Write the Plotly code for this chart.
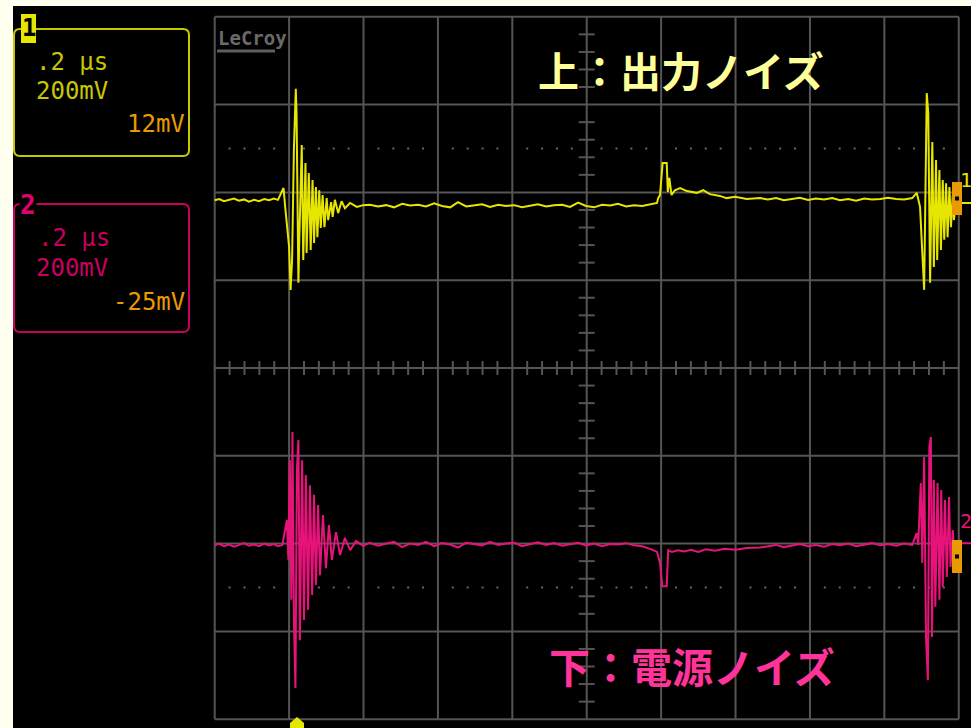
import plotly.graph_objects as go

# ---------------- data (time in ns, voltage in mV) ----------------
ch1_t = [0, 12, 25, 38, 52, 65, 79, 92, 106, 119, 133, 146, 159, 170, 185, 189,
         200, 204, 208, 213, 218, 220, 225, 227, 234, 238, 244, 247, 253, 258, 263, 267,
         272, 276, 281, 285, 290, 295, 301, 305, 313, 317, 323, 332, 341, 350, 364, 382, 399,
         417, 439, 461, 482, 504, 525, 547, 568, 590, 611, 633, 654, 676, 697, 719, 740,
         762, 783, 805, 826, 848, 869, 891, 912, 934, 955, 977, 998, 1020, 1041, 1063, 1084,
         1106, 1127, 1149, 1170, 1189,
         1192, 1197, 1204, 1215, 1218, 1222, 1228, 1237, 1251, 1269, 1296, 1313, 1331, 1358,
         1376, 1399, 1430, 1466,
         1487, 1509, 1530, 1552, 1573, 1595, 1616, 1638, 1660, 1681, 1703, 1724, 1746, 1767,
         1789, 1810, 1832, 1853, 1875,
         1887, 1896, 1903, 1907, 1914, 1918, 1923, 1929, 1933, 1939, 1942, 1948, 1952, 1957,
         1961, 1966, 1970, 1975, 1979, 1984, 1987, 1993, 2004, 2033]
ch1_v = [382, 385, 380, 383, 386, 381, 384, 379, 383, 380, 385, 382, 386, 383, 410, 371,
         276, 178, 246, 503, 636, 581, 194, 276, 508, 246, 467, 262, 444, 269, 428, 285,
         412, 298, 405, 319, 394, 321, 387, 337, 378, 344, 383, 353, 380, 364, 376, 367, 371,
         372, 368, 371, 366, 374, 370, 372, 368, 375, 369, 366, 378, 368, 371, 373, 367,
         372, 369, 371, 366, 370, 373, 368, 371, 372, 367, 377, 369, 366, 372, 370, 374,
         368, 371, 369, 373, 376,
         387, 394, 467, 467, 401, 433, 394, 405, 410, 403, 399, 405, 396, 392,
         387, 390, 385, 387,
         384, 387, 382, 385, 388, 383, 386, 384, 387, 382, 385, 381, 386, 384,
         385, 388, 385, 384, 387,
         399, 367, 246, 178, 626, 581, 194, 515, 230, 474, 246, 451, 269, 428,
         292, 421, 298, 412, 321, 394, 337, 383, 376, 376]

ch2_t = [0, 12, 25, 38, 52, 65, 79, 92, 106, 119, 133, 146, 159, 170, 182,
         194, 198, 202, 206, 209, 213, 217, 221, 225, 229, 235, 240, 245, 251, 256, 262,
         267, 272, 278, 283, 291, 299, 307, 315, 326, 337, 350, 364, 380, 399,
         417, 439, 461, 482, 504, 525, 547, 568, 590, 611, 633, 654, 676, 697, 719, 740,
         762, 783, 805, 826, 848, 869, 891, 912, 934, 955, 977, 998, 1020, 1041, 1063, 1084,
         1106, 1127, 1149, 1170,
         1182, 1189, 1197, 1203, 1215, 1219, 1229, 1245, 1262, 1280, 1300, 1320, 1345, 1370,
         1400, 1430, 1466,
         1487, 1509, 1530, 1552, 1573, 1595, 1616, 1638, 1660, 1681, 1703, 1724, 1746, 1767,
         1789, 1810, 1832, 1853, 1875,
         1887, 1891, 1898, 1902, 1907, 1912, 1917, 1921, 1925, 1928, 1933, 1937, 1943, 1948,
         1953, 1957, 1963, 1968, 1974, 1978, 1984, 1988, 1994, 2004, 2033]
ch2_v = [-404, -400, -406, -402, -407, -403, -399, -405, -402, -406, -400, -404, -401, -406, -403,
         -346, -437, -210, -528, -146, -574, -729, -232, -164, -620, -210, -574, -244, -551, -267, -517,
         -289, -494, -312, -472, -335, -456, -358, -437, -374, -426, -387, -415, -394, -405,
         -398, -405, -400, -396, -408, -400, -403, -396, -406, -399, -402, -409, -398, -401, -404, -396,
         -403, -400, -398, -406, -401, -397, -403, -399, -405, -402, -398, -404, -400, -406, -401, -402,
         -399, -404, -406, -412,
         -416, -419, -444, -497, -497, -415, -419, -415, -418, -414, -419, -413, -416, -412,
         -414, -410, -409,
         -406, -403, -408, -404, -401, -406, -403, -407, -401, -404, -400, -406, -402, -399,
         -404, -401, -405, -400, -403,
         -376, -403, -262, -444, -203, -613, -711, -180, -157, -613, -255, -544, -262, -528,
         -278, -499, -301, -476, -294, -453, -369, -421, -399, -399, -399]

# ---------------- geometry helpers ----------------
W, H = 971, 728
X0_PX, PX_PER_NS = 214.7, 1 / 2.688
Y0_PX, PX_PER_MV = 368.0, 1 / 2.278
x_range = [(0 - X0_PX) / PX_PER_NS, (W - X0_PX) / PX_PER_NS]
y_range = [(Y0_PX - H) / PX_PER_MV, (Y0_PX - 0) / PX_PER_MV]


def px(x):
    return x / W


def py(y):
    return 1 - y / H


GRID = "#555555"
YEL = "#E6E600"
PINK = "#E8137A"
ORANGE = "#E89A00"

shapes = []
# grid lines
for i in range(11):
    t = i * 200
    shapes.append(dict(type="line", x0=t, x1=t, y0=-800, y1=800, xref="x", yref="y",
                       line=dict(color=GRID, width=2), layer="below"))
for j in range(9):
    v = -800 + j * 200
    shapes.append(dict(type="line", x0=0, x1=2000, y0=v, y1=v, xref="x", yref="y",
                       line=dict(color=GRID, width=2), layer="below"))
# minor ticks on central axes
for k in range(1, 50):
    t = k * 40
    if t % 200:
        shapes.append(dict(type="line", x0=t, x1=t, y0=-16, y1=16, xref="x", yref="y",
                           line=dict(color=GRID, width=2), layer="below"))
for k in range(1, 40):
    v = -800 + k * 40
    if v % 200:
        shapes.append(dict(type="line", x0=978.5, x1=1021.5, y0=v, y1=v, xref="x", yref="y",
                           line=dict(color=GRID, width=2), layer="below"))
# dotted level lines
dot_t = [k * 40 for k in range(1, 50) if (k * 40) % 200]
# title background boxes
shapes.append(dict(type="rect", xref="paper", yref="paper", x0=px(517), x1=px(847),
                   y0=py(104), y1=py(30), fillcolor="black", line=dict(width=0), layer="below"))
shapes.append(dict(type="rect", xref="paper", yref="paper", x0=px(528), x1=px(858),
                   y0=py(701), y1=py(630), fillcolor="black", line=dict(width=0), layer="below"))
# LeCroy underline
shapes.append(dict(type="line", xref="paper", yref="paper", x0=px(217), x1=px(275),
                   y0=py(51), y1=py(51), line=dict(color="#5E5E5E", width=3), layer="below"))
# light frame strips
shapes.append(dict(type="rect", xref="paper", yref="paper", x0=0, x1=px(13), y0=0, y1=1,
                   fillcolor="#FFFFF0", line=dict(width=0), layer="above"))
shapes.append(dict(type="rect", xref="paper", yref="paper", x0=0, x1=1, y0=py(6), y1=1,
                   fillcolor="#FFFFF0", line=dict(width=0), layer="above"))


def rrect(x0, y0, x1, y1, r, color):
    X0, X1 = px(x0), px(x1)
    Y0, Y1 = py(y0), py(y1)
    rx, ry = r / W, r / H
    path = (f"M {X0+rx},{Y0} L {X1-rx},{Y0} Q {X1},{Y0} {X1},{Y0-ry} "
            f"L {X1},{Y1+ry} Q {X1},{Y1} {X1-rx},{Y1} L {X0+rx},{Y1} "
            f"Q {X0},{Y1} {X0},{Y1+ry} L {X0},{Y0-ry} Q {X0},{Y0} {X0+rx},{Y0} Z")
    return dict(type="path", path=path, xref="paper", yref="paper",
                line=dict(color=color, width=2), layer="above")


shapes.append(rrect(14, 29, 189, 156, 6, "#C8C800"))
shapes.append(rrect(14, 204, 189, 332, 6, "#C8005F"))
# channel 1 badge
shapes.append(dict(type="rect", xref="paper", yref="paper", x0=px(21), x1=px(36),
                   y0=py(43), y1=py(14), fillcolor="#E6E600", line=dict(width=0), layer="above"))
# offset markers on right
for (y0, y1) in [(182, 215), (540, 573)]:
    shapes.append(dict(type="rect", xref="paper", yref="paper", x0=px(952), x1=px(962),
                       y0=py(y1), y1=py(y0), fillcolor=ORANGE, line=dict(width=0), layer="above"))
    ym = (y0 + y1) / 2
    shapes.append(dict(type="rect", xref="paper", yref="paper", x0=px(955), x1=px(959),
                       y0=py(ym + 2), y1=py(ym - 2), fillcolor="black", line=dict(width=0), layer="above"))
# trigger marker at bottom
tx = px(297)
shapes.append(dict(type="path", xref="paper", yref="paper",
                   path=f"M {px(290)},{py(728)} L {px(290)},{py(723)} L {tx},{py(717)} L {px(304)},{py(723)} L {px(304)},{py(728)} Z",
                   fillcolor="#E6E600", line=dict(width=0), layer="above"))

fig = go.Figure()
fig.add_trace(go.Scatter(x=dot_t, y=[500] * len(dot_t), mode="markers",
                         marker=dict(color="#666666", size=2, symbol="square"), hoverinfo="skip"))
fig.add_trace(go.Scatter(x=dot_t, y=[-500] * len(dot_t), mode="markers",
                         marker=dict(color="#666666", size=2, symbol="square"), hoverinfo="skip"))
fig.add_trace(go.Scatter(x=ch1_t, y=ch1_v, mode="lines", line=dict(color=YEL, width=2)))
fig.add_trace(go.Scatter(x=ch2_t, y=ch2_v, mode="lines", line=dict(color=PINK, width=2)))

mono = "DejaVu Sans Mono"
ann = []


def A(text, x, y, color, size=24, xanchor="left", family=mono, bg=None, weight=None):
    d = dict(text=text, x=px(x), y=py(y), xref="paper", yref="paper", showarrow=False,
             xanchor=xanchor, yanchor="middle", font=dict(family=family, size=size, color=color))
    if weight:
        d["font"]["weight"] = weight
    if bg:
        d["bgcolor"] = bg
        d["borderpad"] = 0
    ann.append(d)


A("1", 28.5, 28, "black", size=24, xanchor="center", weight="bold")
A(".2 μs", 34, 62, "#C8C800")
A("200mV", 34, 91, "#C8C800")
A("12mV", 187, 124, ORANGE, xanchor="right")
A("2", 28, 205, "#E0006E", size=26, xanchor="center", bg="black", weight="bold")
A(".2 μs", 36, 238, "#C8005F")
A("200mV", 34, 268, "#C8005F")
A("-25mV", 187, 302, ORANGE, xanchor="right")
A("1", 966, 180, "#E6E600", size=20, xanchor="center")
A("2", 966, 521, "#E8137A", size=20, xanchor="center")
A("LeCroy", 216, 38, "#6A6A6A", size=19, family="DejaVu Sans Mono", weight="bold")
A("上：出力ノイズ", 681, 69, "#FFFF99", size=41, xanchor="center", family="Noto Sans CJK JP", weight="bold")
A("下：電源ノイズ", 692, 665, "#FF3399", size=41, xanchor="center", family="Noto Sans CJK JP", weight="bold")

fig.update_layout(
    width=W, height=H, margin=dict(l=0, r=0, t=0, b=0),
    paper_bgcolor="black", plot_bgcolor="black", showlegend=False,
    xaxis=dict(range=x_range, visible=False, fixedrange=True),
    yaxis=dict(range=y_range, visible=False, fixedrange=True),
    shapes=shapes, annotations=ann,
)
fig.write_html("out.html", config={"displayModeBar": False},
               post_script="document.body.style.margin='0';document.body.style.overflow='hidden';")
